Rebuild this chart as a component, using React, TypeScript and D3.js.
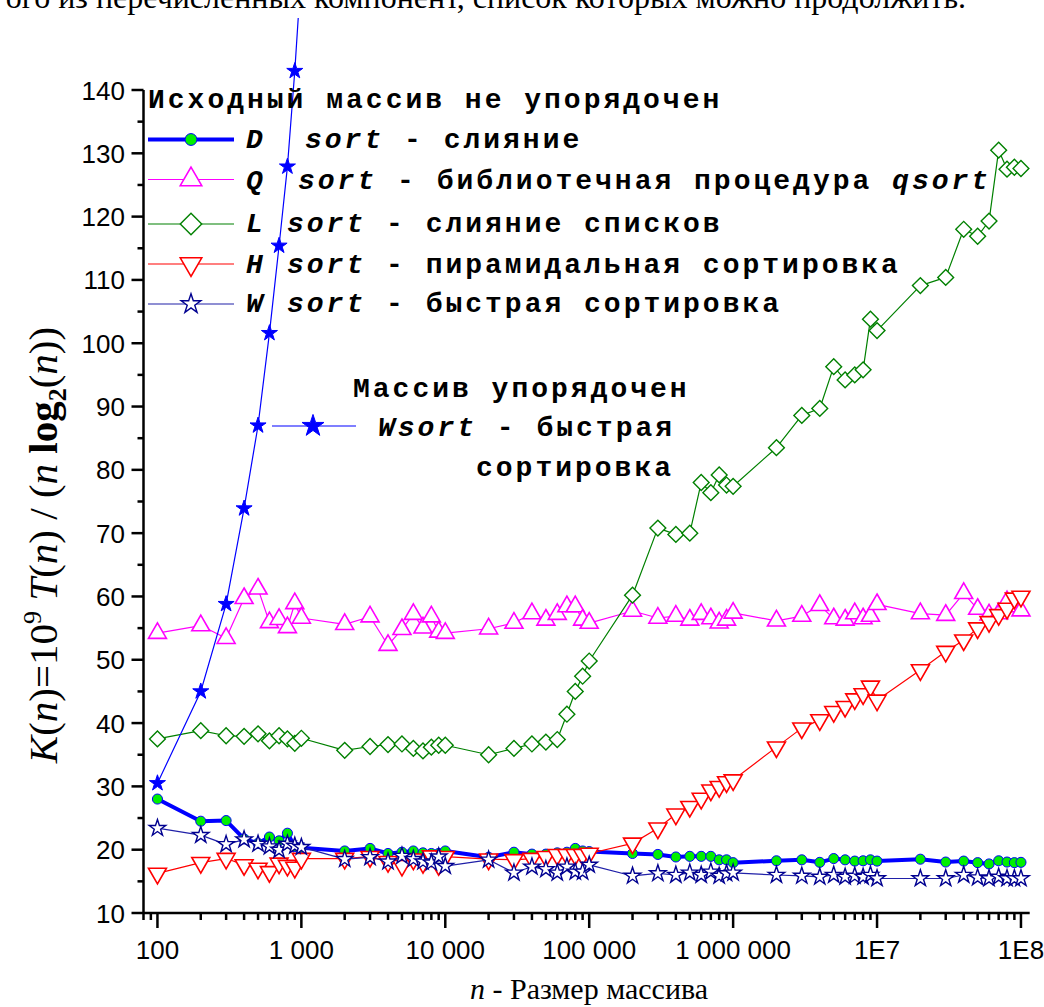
import React from 'react';
import * as d3 from 'd3';

// размеры массивов n
const sizes = [
  100, 200, 300, 400, 500, 600, 700, 800, 900,
  1000, 2000, 3000, 4000, 5000, 6000, 7000, 8000, 9000,
  10000, 20000, 30000, 40000, 50000, 60000, 70000, 80000, 90000,
  100000, 200000, 300000, 400000, 500000, 600000, 700000, 800000, 900000,
  1000000, 2000000, 3000000, 4000000, 5000000, 6000000, 7000000, 8000000, 9000000,
  10000000, 20000000, 30000000, 40000000, 50000000, 60000000, 70000000, 80000000, 90000000,
  100000000,
];

// D sort - слияние
const dSort = [
  28.0, 24.5, 24.6, 21.7, 21.0, 22.0, 21.4, 22.6, 20.5,
  20.3, 19.8, 20.2, 19.4, 19.6, 19.8, 19.5, 19.4, 19.4,
  19.8, 18.8, 19.6, 19.3, 19.3, 19.5, 19.6, 20.2, 19.8,
  19.7, 19.4, 19.25, 18.85, 18.95, 18.95, 18.95, 18.4, 18.4,
  17.95, 18.25, 18.4, 18.0, 18.6, 18.4, 18.2, 18.25, 18.4,
  18.2, 18.5, 18.05, 18.2, 17.95, 17.75, 18.25, 18.05, 17.95,
  18.0,
];

// Q sort - qsort
const qSort = [
  54.2, 55.4, 53.4, 59.7, 61.2, 55.9, 56.4, 55.1, 58.9,
  56.6, 55.6, 56.8, 52.3, 54.8, 57.2, 55.05, 56.8, 54.4,
  54.2, 54.9, 55.8, 57.3, 56.3, 57.2, 58.4, 58.4, 56.3,
  55.8, 57.7, 56.6, 56.9, 56.3, 57.2, 56.5, 55.85, 56.3,
  57.4, 56.15, 56.9, 58.6, 56.5, 56.3, 57.3, 56.5, 56.9,
  58.75, 57.3, 57.05, 60.5, 58.0, 57.1, 57.3, 59.2, 58.4,
  57.75,
];

// L sort - слияние списков
const lSort = [
  37.5, 38.8, 38.0, 37.9, 38.3, 37.2, 38.0, 37.5, 36.8,
  37.6, 35.7, 36.3, 36.6, 36.7, 36.0, 35.6, 36.2, 36.5,
  36.5, 35.0, 36.0, 36.7, 37.0, 37.4, 41.4, 45.0, 47.4,
  49.8, 60.2, 70.8, 69.8, 70.0, 78.0, 76.4, 79.2, 77.6,
  77.4, 83.5, 88.6, 89.7, 96.3, 94.2, 95.0, 95.8, 103.8,
  102.0, 109.1, 110.4, 118.0, 116.9, 119.3, 130.5, 127.5, 127.8,
  127.6,
];

// H sort - пирамидальная сортировка
const hSort = [
  16.25, 17.95, 18.6, 17.6, 17.05, 16.5, 17.85, 17.5, 17.2,
  18.6, 18.6, 18.9, 18.1, 17.5, 18.5, 17.95, 19.0, 17.6,
  18.9, 18.5, 18.4, 18.6, 18.9, 19.2, 19.2, 19.2, 19.2,
  19.4, 21.0, 23.4, 25.6, 26.8, 28.1, 29.4, 29.95, 30.7,
  31.0, 36.2, 39.2, 40.5, 41.8, 42.6, 43.8, 44.6, 45.8,
  43.6, 48.4, 51.3, 53.1, 55.0, 56.0, 57.1, 58.1, 59.7,
  60.0,
];

// W sort - быстрая сортировка (исходный массив не упорядочен)
const wSort = [
  23.4, 22.3, 20.85, 21.6, 20.9, 20.5, 19.95, 20.9, 20.6,
  20.4, 18.5, 18.8, 18.1, 19.0, 18.5, 18.1, 17.95, 18.9,
  17.4, 18.4, 16.35, 17.3, 16.9, 16.35, 17.3, 16.5, 16.5,
  17.6, 15.85, 16.25, 16.0, 16.35, 16.0, 16.5, 15.85, 16.25,
  16.35, 16.0, 15.85, 15.7, 16.0, 15.7, 15.85, 15.7, 16.0,
  15.45, 15.45, 15.45, 16.0, 15.6, 15.45, 15.7, 15.45, 15.45,
  15.45,
];

// Wsort - массив упорядочен
const sortedSizes = [100, 200, 300, 400, 500, 600, 700, 800, 900, 1000];
const wSortSorted = [30.5, 45.0, 58.8, 73.9, 87.0, 101.6, 115.4, 127.9, 143.0, 159.0];

const xTickValues = [100, 1000, 10000, 100000, 1000000, 10000000, 100000000];
const xTickLabels = ['100', '1 000', '10 000', '100 000', '1 000 000', '1E7', '1E8'];
const yTickValues = [10, 20, 30, 40, 50, 60, 70, 80, 90, 100, 110, 120, 130, 140];
const yMinorTicks = [15, 25, 35, 45, 55, 65, 75, 85, 95, 105, 115, 125, 135];

const W = 1044;
const H = 1007;

const mono = "'Liberation Mono', 'DejaVu Sans Mono', monospace";
const serif = "'Liberation Serif', 'DejaVu Serif', serif";
const sans = "'Liberation Sans', Arial, sans-serif";

const x = d3.scaleLog().domain([80, 1.15e8]).range([143.5, 1029.7]);
const y = d3.scaleLinear().domain([10, 140]).range([913, 90]);

const sym = (type: d3.SymbolType, size: number) => d3.symbol().type(type).size(size)() as string;

const pathOf = (xs: number[], ys: number[]) =>
  d3.line<number>().x((_, i) => x(xs[i])).y((d) => y(d))(ys) as string;

type Series = {
  ys: number[];
  xs: number[];
  color: string;
  lineWidth: number;
  symbol: string;
  rotate: number;
  fill: string;
  stroke: string;
  strokeWidth: number;
};

const circle = sym(d3.symbolCircle, 80);
const triUp = sym(d3.symbolTriangle, 140);
const diamond = sym(d3.symbolSquare, 125);
const star = sym(d3.symbolStar, 85);
const starFilled = sym(d3.symbolStar, 80);

const series: Series[] = [
  { xs: sizes, ys: dSort, color: '#0000FF', lineWidth: 4, symbol: circle, rotate: 0, fill: '#00F000', stroke: '#0000FF', strokeWidth: 1 },
  { xs: sizes, ys: qSort, color: '#FF00FF', lineWidth: 1.2, symbol: triUp, rotate: 0, fill: '#FFFFFF', stroke: '#FF00FF', strokeWidth: 1.6 },
  { xs: sizes, ys: lSort, color: '#008000', lineWidth: 1.2, symbol: diamond, rotate: 45, fill: '#FFFFFF', stroke: '#008000', strokeWidth: 1.4 },
  { xs: sizes, ys: hSort, color: '#FF0000', lineWidth: 1.2, symbol: triUp, rotate: 180, fill: '#FFFFFF', stroke: '#FF0000', strokeWidth: 1.6 },
  { xs: sizes, ys: wSort, color: '#2020A8', lineWidth: 1.2, symbol: star, rotate: 0, fill: '#FFFFFF', stroke: '#000090', strokeWidth: 1.4 },
];

const legendRows = [
  { cy: 139.5, base: 148, key: 0, sym: sym(d3.symbolCircle, 110), rot: 0 },
  { cy: 179.5, base: 189, key: 1, sym: sym(d3.symbolTriangle, 200), rot: 0 },
  { cy: 224, base: 232, key: 2, sym: sym(d3.symbolSquare, 230), rot: 45 },
  { cy: 264, base: 273, key: 3, sym: sym(d3.symbolTriangle, 200), rot: 180 },
  { cy: 304, base: 312, key: 4, sym: sym(d3.symbolStar, 120), rot: 0 },
];

const legendText = [
  { lead: 'D', sortX: 305, rest: ' - слияние', tail: '' },
  { lead: 'Q', sortX: 298, rest: ' - библиотечная процедура ', tail: 'qsort' },
  { lead: 'L', sortX: 287, rest: ' - слияние списков', tail: '' },
  { lead: 'H', sortX: 287, rest: ' - пирамидальная сортировка', tail: '' },
  { lead: 'W', sortX: 287, rest: ' - быстрая сортировка', tail: '' },
];

const legendFont = { fontFamily: mono, fontWeight: 700, fontSize: 28, letterSpacing: 3, whiteSpace: 'pre' as const };

export default function App() {
  const xAll = x.ticks();
  return (
    <svg width={W} height={H} style={{ position: 'absolute', left: 0, top: 0, background: '#fff' }}>
      <defs>
        <clipPath id="topcut">
          <rect x={0} y={18} width={W} height={H} />
        </clipPath>
      </defs>
      <rect width={W} height={H} fill="#fff" />

      {/* текст документа, обрезанный сверху */}
      <text x={966} y={8} textAnchor="end" fontFamily={serif} fontSize={32} fill="#000">
        ого из перечисленных компонент, список которых можно продолжить.
      </text>

      {/* серии */}
      {series.map((s, si) => (
        <g key={si}>
          <path d={pathOf(s.xs, s.ys)} fill="none" stroke={s.color} strokeWidth={s.lineWidth} strokeLinejoin="round" />
          {s.ys.map((v, i) => (
            <path
              key={i}
              d={s.symbol}
              transform={`translate(${x(s.xs[i])},${y(v)}) rotate(${s.rotate})`}
              fill={s.fill}
              stroke={s.stroke}
              strokeWidth={s.strokeWidth}
            />
          ))}
        </g>
      ))}

      {/* упорядоченный массив */}
      <g clipPath="url(#topcut)">
        <path d={pathOf(sortedSizes, wSortSorted)} fill="none" stroke="#0000FF" strokeWidth={1.2} />
        {wSortSorted.map((v, i) => (
          <path key={i} d={starFilled} transform={`translate(${x(sortedSizes[i])},${y(v)})`} fill="#0000FF" stroke="#0000FF" strokeWidth={1} />
        ))}
      </g>

      {/* оси */}
      <g stroke="#000" strokeWidth={2.5} fill="none">
        <line x1={x.range()[0]} x2={x.range()[1]} y1={y(10)} y2={y(10)} />
        <line x1={x.range()[0]} x2={x.range()[0]} y1={y(10)} y2={y(140)} />
        {xAll.map((t, i) => {
          const major = Math.abs(Math.log10(t) - Math.round(Math.log10(t))) < 1e-9;
          return <line key={i} x1={x(t)} x2={x(t)} y1={y(10)} y2={y(10) + (major ? 15 : 7)} />;
        })}
        {yTickValues.map((t) => (
          <line key={t} x1={x.range()[0] - 12} x2={x.range()[0]} y1={y(t)} y2={y(t)} />
        ))}
        {yMinorTicks.map((t) => (
          <line key={t} x1={x.range()[0] - 6} x2={x.range()[0]} y1={y(t)} y2={y(t)} />
        ))}
      </g>
      <g fontFamily={sans} fontSize={26} fill="#000">
        {xTickValues.map((t, i) => (
          <text key={t} x={x(t)} y={959} textAnchor="middle">{xTickLabels[i]}</text>
        ))}
        {yTickValues.map((t) => (
          <text key={t} x={125} y={y(t) + 9.5} textAnchor="end">{t}</text>
        ))}
      </g>

      {/* подписи осей */}
      <text x={589} y={999} textAnchor="middle" fontFamily={serif} fontSize={30} fill="#000">
        <tspan fontStyle="italic">n</tspan> - Размер массива
      </text>
      <text transform="translate(57,545) rotate(-90)" textAnchor="middle" fontFamily={serif} fontSize={41} fill="#000" style={{ whiteSpace: 'pre' }}>
        <tspan fontStyle="italic">K</tspan>(<tspan fontStyle="italic">n</tspan>)=10
        <tspan fontSize={26} dy={-16}>9</tspan>
        <tspan dy={16}> </tspan>
        <tspan fontStyle="italic">T</tspan>(<tspan fontStyle="italic">n</tspan>) / (<tspan fontStyle="italic">n</tspan> <tspan fontWeight={700}>log</tspan>
        <tspan fontWeight={700} fontSize={26} dy={9}>2</tspan>
        <tspan dy={-9}>(</tspan><tspan fontStyle="italic">n</tspan>))
      </text>

      {/* легенда */}
      <text x={148} y={108} {...legendFont} fill="#000">Исходный массив не упорядочен</text>
      {legendRows.map((r, i) => {
        const s = series[r.key];
        const t = legendText[i];
        return (
          <g key={i}>
            <line x1={148} x2={234} y1={r.cy} y2={r.cy} stroke={s.color} strokeWidth={s.lineWidth} />
            <path d={r.sym} transform={`translate(191,${r.cy}) rotate(${r.rot})`} fill={s.fill} stroke={s.stroke} strokeWidth={s.strokeWidth} />
            <text y={r.base} {...legendFont} fill="#000">
              <tspan x={246} fontStyle="italic">{t.lead}</tspan>
              <tspan x={t.sortX} fontStyle="italic">sort</tspan>
              <tspan>{t.rest}</tspan>
              {t.tail && <tspan fontStyle="italic">{t.tail}</tspan>}
            </text>
          </g>
        );
      })}

      <text x={353} y={397} {...legendFont} fill="#000">Массив упорядочен</text>
      <line x1={272} x2={356} y1={426} y2={426} stroke="#0000FF" strokeWidth={1.2} />
      <path d={sym(d3.symbolStar, 150)} transform="translate(313,426)" fill="#0000FF" stroke="#0000FF" />
      <text x={378} y={436} {...legendFont} fill="#000">
        <tspan fontStyle="italic">Wsort</tspan><tspan> - быстрая</tspan>
      </text>
      <text x={476} y={476} {...legendFont} fill="#000">сортировка</text>
    </svg>
  );
}
